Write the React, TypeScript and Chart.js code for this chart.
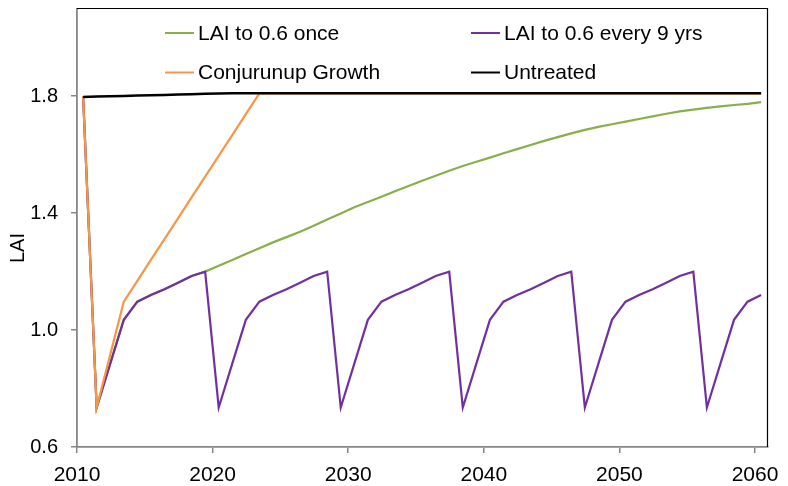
import { useEffect, useRef } from "react";
import { Chart, registerables } from "chart.js";

Chart.register(...registerables);

const FONT = '"Liberation Sans", Arial, sans-serif';

// x: one value per year, plotted just past mid-year as in the source
const firstYear = 2010;
const yearCount = 51;
const pointOffset = 0.45;
const years: number[] = Array.from({ length: yearCount }, (_, i) => firstYear + i);

const xTicks = [2010, 2020, 2030, 2040, 2050, 2060];
const yTicks = [0.6, 1.0, 1.4, 1.8];

const seriesLabels = [
  "LAI to 0.6 once",
  "LAI to 0.6 every 9 yrs",
  "Conjurunup Growth",
  "Untreated",
];

const laiOnce = [
  1.8, 0.735, 0.885, 1.035, 1.097, 1.12, 1.14, 1.162, 1.185, 1.2,
  1.22, 1.24, 1.26, 1.28, 1.3, 1.318, 1.336, 1.357, 1.378, 1.399,
  1.42, 1.438, 1.456, 1.475, 1.493, 1.511, 1.528, 1.545, 1.561, 1.576,
  1.59, 1.605, 1.619, 1.633, 1.647, 1.66, 1.673, 1.685, 1.695, 1.704,
  1.713, 1.722, 1.731, 1.74, 1.748, 1.754, 1.76, 1.765, 1.77, 1.774,
  1.78,
];

const laiEvery9 = [
  1.8,
  0.735, 0.885, 1.035, 1.097, 1.12, 1.14, 1.162, 1.185, 1.2,
  0.735, 0.885, 1.035, 1.097, 1.12, 1.14, 1.162, 1.185, 1.2,
  0.735, 0.885, 1.035, 1.097, 1.12, 1.14, 1.162, 1.185, 1.2,
  0.735, 0.885, 1.035, 1.097, 1.12, 1.14, 1.162, 1.185, 1.2,
  0.735, 0.885, 1.035, 1.097, 1.12, 1.14, 1.162, 1.185, 1.2,
  0.735, 0.885, 1.035, 1.097, 1.12,
];

const conjurunup = [
  1.8, 0.735, 0.916, 1.097, 1.168, 1.24, 1.311, 1.382, 1.454, 1.525,
  1.596, 1.667, 1.739, 1.81, 1.81, 1.81, 1.81, 1.81, 1.81, 1.81,
  1.81, 1.81, 1.81, 1.81, 1.81, 1.81, 1.81, 1.81, 1.81, 1.81,
  1.81, 1.81, 1.81, 1.81, 1.81, 1.81, 1.81, 1.81, 1.81, 1.81,
  1.81, 1.81, 1.81, 1.81, 1.81, 1.81, 1.81, 1.81, 1.81, 1.81,
  1.81,
];

const untreated = [
  1.797, 1.799, 1.8, 1.801, 1.802, 1.803, 1.804, 1.806, 1.807, 1.808,
  1.809, 1.81, 1.81, 1.81, 1.81, 1.81, 1.81, 1.81, 1.81, 1.81,
  1.81, 1.81, 1.81, 1.81, 1.81, 1.81, 1.81, 1.81, 1.81, 1.81,
  1.81, 1.81, 1.81, 1.81, 1.81, 1.81, 1.81, 1.81, 1.81, 1.81,
  1.81, 1.81, 1.81, 1.81, 1.81, 1.81, 1.81, 1.81, 1.81, 1.81,
  1.81,
];

const seriesValues = [laiOnce, laiEvery9, conjurunup, untreated];
const seriesColors = ["#8AAE4A", "#7030A0", "#F79646", "#000000"];
const seriesOrder = [3, 2, 1, 0];

const toPoints = (vals: number[]) =>
  years.map((yr, i) => ({ x: yr + pointOffset, y: vals[i] }));

const decorations = {
  id: "decorations",
  afterDraw(chart: any) {
    const { ctx, chartArea: a } = chart;
    ctx.save();
    // plot-area frame (top and right)
    ctx.strokeStyle = "#000";
    ctx.lineWidth = 1.2;
    ctx.beginPath();
    ctx.moveTo(a.left, a.top);
    ctx.lineTo(a.right, a.top);
    ctx.lineTo(a.right, a.bottom);
    ctx.stroke();

    // legend inside the plot
    ctx.font = `21px ${FONT}`;
    ctx.textBaseline = "middle";
    ctx.textAlign = "left";
    const colX = [a.left + 88, a.left + 394];
    const rowY = [a.top + 24.5, a.top + 64];
    chart.data.datasets.forEach((ds: any, i: number) => {
      const x = colX[i % 2];
      const y = rowY[Math.floor(i / 2)];
      ctx.strokeStyle = ds.borderColor;
      ctx.lineWidth = 2;
      ctx.beginPath();
      ctx.moveTo(x, y);
      ctx.lineTo(x + 29, y);
      ctx.stroke();
      ctx.fillStyle = "#000";
      ctx.fillText(ds.label, x + 33, y + 1);
    });

    // y axis title
    ctx.save();
    ctx.font = `20px ${FONT}`;
    ctx.translate(18.5, 248);
    ctx.rotate(-Math.PI / 2);
    ctx.textAlign = "center";
    ctx.textBaseline = "middle";
    ctx.fillStyle = "#000";
    ctx.fillText("LAI", 0, 0);
    ctx.restore();
    ctx.restore();
  },
};

export default function App() {
  const ref = useRef<HTMLCanvasElement>(null);
  useEffect(() => {
    document.body.style.margin = "0";
    const canvas = ref.current;
    if (!canvas) return;
    const chart = new Chart(canvas, {
      type: "line",
      data: {
        datasets: seriesLabels.map((label, i) => ({
          label,
          data: toPoints(seriesValues[i]),
          borderColor: seriesColors[i],
          backgroundColor: seriesColors[i],
          borderWidth: i === 3 ? 2.5 : 2.2,
          pointRadius: 0,
          tension: 0,
          fill: false,
          order: seriesOrder[i],
        })),
      },
      options: {
        animation: false,
        responsive: false,
        layout: { padding: { top: 8.5, right: 20.5, left: 0, bottom: 0 } },
        plugins: { legend: { display: false }, tooltip: { enabled: false } },
        scales: {
          x: {
            type: "linear",
            min: 2010,
            max: 2060.92,
            afterBuildTicks: (s: any) => {
              s.ticks = xTicks.map((v) => ({ value: v }));
            },
            afterFit: (s: any) => {
              s.height = 39;
              s.paddingLeft = 0;
              s.paddingRight = 0;
            },
            ticks: {
              callback: (v: any) => String(v),
              font: { family: FONT, size: 21 },
              color: "#000",
              padding: 10,
              maxRotation: 0,
              autoSkip: false,
            },
            grid: {
              display: true,
              drawOnChartArea: false,
              drawTicks: true,
              tickLength: 6,
              color: "#868686",
              lineWidth: 1.5,
            },
            border: { display: true, color: "#868686", width: 1.8 },
          },
          y: {
            type: "linear",
            min: 0.6,
            max: 2.1,
            afterBuildTicks: (s: any) => {
              s.ticks = yTicks.map((v) => ({ value: v }));
            },
            afterFit: (s: any) => {
              s.width = 77;
              s.paddingTop = 0;
              s.paddingBottom = 0;
            },
            ticks: {
              callback: (v: any) => Number(v).toFixed(1),
              font: { family: FONT, size: 20 },
              color: "#000",
              padding: 13,
            },
            grid: {
              display: true,
              drawOnChartArea: false,
              drawTicks: true,
              tickLength: 6,
              color: "#868686",
              lineWidth: 1.5,
            },
            border: { display: true, color: "#868686", width: 1.8 },
          },
        },
      } as any,
      plugins: [decorations],
    });
    return () => chart.destroy();
  }, []);
  return (
    <div style={{ position: "absolute", left: 0, top: 0, width: 788, height: 486 }}>
      <canvas ref={ref} width={788} height={486} style={{ display: "block" }} />
    </div>
  );
}
